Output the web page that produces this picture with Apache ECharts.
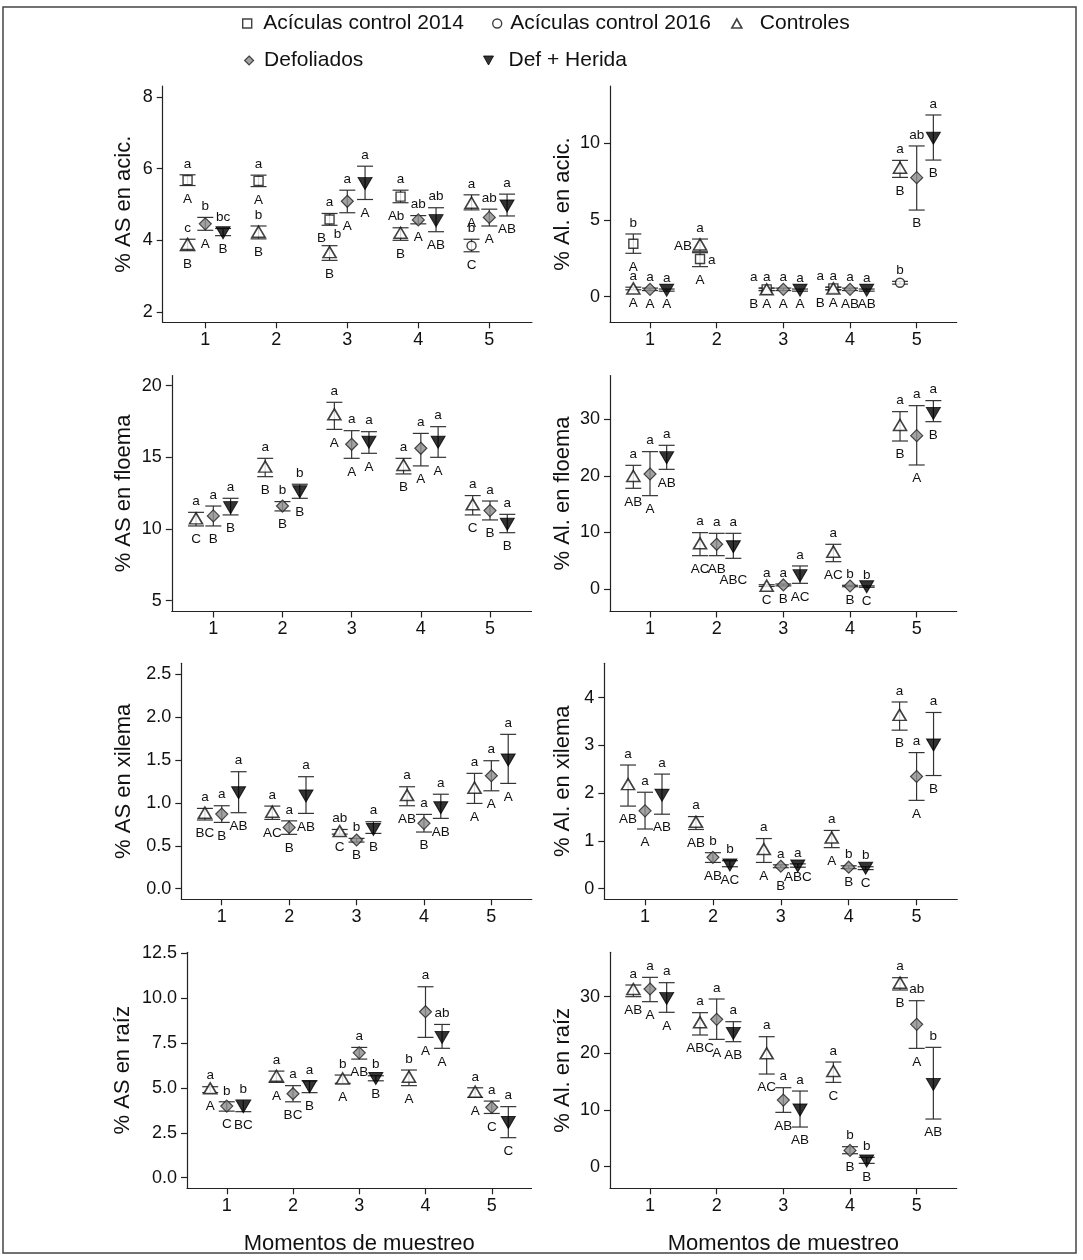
<!DOCTYPE html>
<html><head><meta charset="utf-8">
<script src="https://cdn.jsdelivr.net/npm/echarts@6/dist/echarts.min.js"></script>
<style>html,body{margin:0;padding:0;background:#fff}#c{width:1083px;height:1260px}</style>
</head><body><div id="c"></div>
<script>
// ---------- data ----------
const MOMENTS = [1, 2, 3, 4, 5];
const SERIES_NAMES = ['Acículas control 2014', 'Acículas control 2016', 'Controles', 'Defoliados', 'Def + Herida'];
const Y_TITLES = ['% AS en acic.', '% Al. en acic.', '% AS en floema', '% Al. en floema', '% AS en xilema', '% Al. en xilema', '% AS en raíz', '% Al. en raíz'];
const X_TITLE = 'Momentos de muestreo';
const Y_TICKS = [[2, 4, 6, 8], [0, 5, 10], [5, 10, 15, 20], [0, 10, 20, 30], [0, 0.5, 1, 1.5, 2, 2.5], [0, 1, 2, 3, 4], [0, 2.5, 5, 7.5, 10, 12.5], [0, 10, 20, 30]];
const Y_MIN = [1.71, -1.67, 4.24, -3.98, -0.123, -0.222, -0.59, -3.81];
const Y_MAX = [8.31, 13.74, 20.71, 37.74, 2.624, 4.72, 12.56, 37.83];
const Y_DEC = [0, 0, 0, 0, 1, 0, 1, 0];

// rows: [moment, mean, lower, upper]; letters: [lowercase above, uppercase below]
// Panel 1: % AS en acic.
const p1Sq = [[1, 5.68, 5.53, 5.83], [2, 5.66, 5.50, 5.82], [3, 4.58, 4.42, 4.75], [4, 5.22, 5.05, 5.40]];
const p1SqL = [['a', 'A'], ['a', 'A'], ['a', 'B'], ['a', 'A']];
const p1Ci = [[5, 3.85, 3.68, 4.03]];
const p1CiL = [['b', 'C']];
const p1Tr = [[1, 3.90, 3.71, 4.03], [2, 4.24, 4.04, 4.40], [3, 3.67, 3.44, 3.85], [4, 4.21, 4.00, 4.35], [5, 5.05, 4.85, 5.27]];
const p1TrL = [['c', 'B'], ['b', 'B'], ['b', 'B'], ['b', 'B'], ['a', 'A']];
const p1Di = [[1, 4.46, 4.28, 4.64], [3, 5.09, 4.77, 5.40], [4, 4.57, 4.46, 4.69], [5, 4.64, 4.40, 4.87]];
const p1DiL = [['b', 'A'], ['a', 'A'], ['ab', 'A'], ['ab', 'A']];
const p1Dn = [[1, 4.21, 4.13, 4.33], [3, 5.59, 5.14, 6.07], [4, 4.55, 4.24, 4.91], [5, 4.96, 4.68, 5.29]];
const p1DnL = [['bc', 'B'], ['a', 'A'], ['ab', 'AB'], ['a', 'AB']];
// Panel 2: % Al. en acic.
const p2Sq = [[1, 3.45, 2.83, 4.09], [2, 2.46, 1.96, 2.87], [3, 0.48, 0.40, 0.56], [4, 0.54, 0.45, 0.62]];
const p2SqL = [['b', 'A'], ['a', 'A'], ['a', 'B'], ['a', 'B']];
const p2Ci = [[5, 0.91, 0.82, 1.00]];
const p2CiL = [['b', '']];
const p2Tr = [[1, 0.54, 0.45, 0.62], [2, 3.41, 2.93, 3.76], [3, 0.48, 0.40, 0.56], [4, 0.54, 0.45, 0.62], [5, 8.41, 7.78, 8.89]];
const p2TrL = [['a', 'A'], ['a', 'AB'], ['a', 'A'], ['a', 'A'], ['a', 'B']];
const p2Di = [[1, 0.48, 0.40, 0.56], [3, 0.48, 0.40, 0.56], [4, 0.48, 0.40, 0.56], [5, 7.76, 5.65, 9.83]];
const p2DiL = [['a', 'A'], ['a', 'A'], ['a', 'AB'], ['ab', 'B']];
const p2Dn = [[1, 0.43, 0.36, 0.50], [3, 0.43, 0.36, 0.50], [4, 0.43, 0.36, 0.50], [5, 10.33, 8.91, 11.85]];
const p2DnL = [['a', 'A'], ['a', 'A'], ['a', 'AB'], ['a', 'B']];
// Panel 3: % AS en floema
const p3Tr = [[1, 10.74, 10.21, 11.16], [2, 14.35, 13.65, 14.93], [3, 18.0, 16.95, 18.84], [4, 14.47, 13.84, 14.93], [5, 11.72, 10.98, 12.33]];
const p3TrL = [['a', 'C'], ['a', 'B'], ['a', 'A'], ['a', 'B'], ['a', 'C']];
const p3Di = [[1, 10.91, 10.21, 11.60], [2, 11.60, 11.26, 11.91], [3, 15.91, 14.93, 16.86], [4, 15.63, 14.40, 16.67], [5, 11.28, 10.63, 11.95]];
const p3DiL = [['a', 'B'], ['b', 'B'], ['a', 'A'], ['a', 'A'], ['a', 'B']];
const p3Dn = [[1, 11.49, 10.98, 12.14], [2, 12.60, 12.14, 13.12], [3, 16.05, 15.28, 16.79], [4, 16.05, 15.00, 17.14], [5, 10.33, 9.74, 11.02]];
const p3DnL = [['a', 'B'], ['b', 'B'], ['a', 'A'], ['a', 'A'], ['a', 'B']];
// Panel 4: % Al. en floema
const p4Tr = [[1, 19.98, 17.80, 21.86], [2, 8.07, 5.89, 9.96], [3, 0.59, 0.45, 0.75], [4, 6.60, 4.83, 7.90], [5, 28.99, 26.16, 31.35]];
const p4TrL = [['a', 'AB'], ['a', 'AC'], ['a', 'C'], ['a', 'AC'], ['a', 'B']];
const p4Di = [[1, 20.33, 16.50, 24.28], [2, 7.90, 5.89, 9.84], [3, 0.71, 0.55, 0.88], [4, 0.53, 0.40, 0.65], [5, 27.10, 21.92, 32.41]];
const p4DiL = [['a', 'A'], ['a', 'AB'], ['a', 'B'], ['b', 'B'], ['a', 'A']];
const p4Dn = [[1, 23.22, 21.15, 25.40], [2, 7.48, 5.42, 9.84], [3, 2.36, 1.00, 4.07], [4, 0.41, 0.30, 0.55], [5, 31.05, 29.58, 33.30]];
const p4DnL = [['a', 'AB'], ['a', 'ABC'], ['a', 'AC'], ['b', 'C'], ['a', 'B']];
// Panel 5: % AS en xilema
const p5Tr = [[1, 0.885, 0.80, 0.935], [2, 0.896, 0.807, 0.962], [3, 0.671, 0.636, 0.69], [4, 1.09, 0.966, 1.187], [5, 1.176, 0.993, 1.343]];
const p5TrL = [['a', 'BC'], ['a', 'AC'], ['ab', 'C'], ['a', 'AB'], ['a', 'A']];
const p5Di = [[1, 0.869, 0.772, 0.966], [2, 0.714, 0.633, 0.79], [3, 0.567, 0.543, 0.586], [4, 0.761, 0.66, 0.865], [5, 1.315, 1.14, 1.49]];
const p5DiL = [['a', 'B'], ['a', 'B'], ['b', 'B'], ['a', 'B'], ['a', 'A']];
const p5Dn = [[1, 1.118, 0.885, 1.362], [2, 1.08, 0.877, 1.304], [3, 0.69, 0.644, 0.78], [4, 0.943, 0.819, 1.10], [5, 1.498, 1.226, 1.797]];
const p5DnL = [['a', 'AB'], ['a', 'AB'], ['a', 'B'], ['a', 'AB'], ['a', 'A']];
// Panel 6: % Al. en xilema
const p6Tr = [[1, 2.19, 1.73, 2.59], [2, 1.40, 1.24, 1.51], [3, 0.83, 0.55, 1.05], [4, 1.07, 0.86, 1.22], [5, 3.64, 3.32, 3.91]];
const p6TrL = [['a', 'AB'], ['a', 'AB'], ['a', 'A'], ['a', 'A'], ['a', 'B']];
const p6Di = [[1, 1.63, 1.25, 2.02], [2, 0.656, 0.55, 0.754], [3, 0.47, 0.44, 0.50], [4, 0.45, 0.42, 0.48], [5, 2.35, 1.85, 2.85]];
const p6DiL = [['a', 'A'], ['b', 'AB'], ['a', 'B'], ['b', 'B'], ['a', 'A']];
const p6Dn = [[1, 1.96, 1.56, 2.40], [2, 0.496, 0.46, 0.586], [3, 0.475, 0.45, 0.52], [4, 0.43, 0.40, 0.46], [5, 3.01, 2.37, 3.69]];
const p6DnL = [['a', 'AB'], ['b', 'AC'], ['a', 'ABC'], ['b', 'C'], ['a', 'B']];
// Panel 7: % AS en raíz
const p7Tr = [[1, 4.98, 4.74, 5.07], [2, 5.68, 5.31, 5.94], [3, 5.53, 5.26, 5.72], [4, 5.63, 5.13, 6.00], [5, 4.79, 4.48, 5.01]];
const p7TrL = [['a', 'A'], ['a', 'A'], ['b', 'A'], ['b', 'A'], ['a', 'A']];
const p7Di = [[1, 3.99, 3.71, 4.23], [2, 4.68, 4.23, 5.13], [3, 6.96, 6.61, 7.26], [4, 9.25, 7.82, 10.64], [5, 3.92, 3.58, 4.27]];
const p7DiL = [['b', 'C'], ['a', 'BC'], ['a', 'AB'], ['a', 'A'], ['a', 'C']];
const p7Dn = [[1, 3.96, 3.68, 4.33], [2, 5.07, 4.74, 5.40], [3, 5.53, 5.40, 5.68], [4, 7.82, 7.21, 8.54], [5, 3.08, 2.23, 3.96]];
const p7DnL = [['b', 'BC'], ['a', 'B'], ['b', 'B'], ['ab', 'A'], ['a', 'C']];
// Panel 8: % Al. en raíz
const p8Tr = [[1, 31.35, 30.0, 32.06], [2, 25.47, 23.24, 27.18], [3, 20.0, 16.35, 22.94], [4, 16.88, 14.88, 18.47], [5, 32.47, 31.18, 33.35]];
const p8TrL = [['a', 'AB'], ['a', 'ABC'], ['a', 'AC'], ['a', 'C'], ['a', 'B']];
const p8Di = [[1, 31.35, 29.12, 33.41], [2, 26.0, 22.47, 29.59], [3, 11.76, 9.59, 13.94], [4, 2.88, 2.29, 3.53], [5, 25.12, 20.88, 29.29]];
const p8DiL = [['a', 'A'], ['a', 'A'], ['a', 'AB'], ['b', 'B'], ['ab', 'A']];
const p8Dn = [[1, 29.7, 27.24, 32.47], [2, 23.53, 22.06, 25.59], [3, 10.0, 7.0, 13.35], [4, 1.0, 0.59, 1.65], [5, 14.53, 8.41, 21.06]];
const p8DnL = [['a', 'A'], ['a', 'AB'], ['a', 'AB'], ['b', 'B'], ['b', 'AB']];

const PANEL_DATA = [
  [['sq', p1Sq, p1SqL], ['ci', p1Ci, p1CiL], ['tr', p1Tr, p1TrL], ['di', p1Di, p1DiL], ['dn', p1Dn, p1DnL]],
  [['sq', p2Sq, p2SqL], ['ci', p2Ci, p2CiL], ['tr', p2Tr, p2TrL], ['di', p2Di, p2DiL], ['dn', p2Dn, p2DnL]],
  [['tr', p3Tr, p3TrL], ['di', p3Di, p3DiL], ['dn', p3Dn, p3DnL]],
  [['tr', p4Tr, p4TrL], ['di', p4Di, p4DiL], ['dn', p4Dn, p4DnL]],
  [['tr', p5Tr, p5TrL], ['di', p5Di, p5DiL], ['dn', p5Dn, p5DnL]],
  [['tr', p6Tr, p6TrL], ['di', p6Di, p6DiL], ['dn', p6Dn, p6DnL]],
  [['tr', p7Tr, p7TrL], ['di', p7Di, p7DiL], ['dn', p7Dn, p7DnL]],
  [['tr', p8Tr, p8TrL], ['di', p8Di, p8DiL], ['dn', p8Dn, p8DnL]]
];

// ---------- layout & style ----------
const FONT = "'Liberation Sans', Arial, Helvetica, sans-serif";
const GRIDS = [
  [162.7, 86, 369.2, 236.3], [610, 86, 346.7, 236.3],
  [171.8, 375.5, 359.7, 236], [610, 375.5, 346.7, 236],
  [181.3, 663.3, 350.5, 236], [604.3, 663.3, 353, 236],
  [187, 952.3, 344.5, 236], [610, 952.3, 346.7, 236]
];
const Y_NAME_GAP = [28, 36, 37, 36, 46, 30, 53, 36];
const STYLE = {
  sq: { name: SERIES_NAMES[0], off: -0.25, symbol: 'path://M0,0H10V10H0Z', size: [9, 9], item: { color: '#fff', borderColor: '#111', borderWidth: 1.4 } },
  ci: { name: SERIES_NAMES[1], off: -0.25, symbol: 'path://M5,0A5,5,0,1,1,5,10A5,5,0,1,1,5,0Z', size: [9, 9], item: { color: '#fff', borderColor: '#111', borderWidth: 1.4 } },
  tr: { name: SERIES_NAMES[2], off: -0.25, symbol: 'path://M5,0L10,9L0,9Z', size: [13, 11], item: { color: '#fff', borderColor: '#111', borderWidth: 1.6 } },
  di: { name: SERIES_NAMES[3], off: 0, symbol: 'path://M5,0L10,5L5,10L0,5Z', size: [12, 12], item: { color: '#8c8c8c', borderColor: '#222', borderWidth: 1.2 } },
  dn: { name: SERIES_NAMES[4], off: 0.25, symbol: 'path://M0,0L10,0L5,9Z', size: [14, 12], item: { color: '#000', borderColor: '#000', borderWidth: 1 } }
};
// label nudges: [panel, key, moment, 'top'|'bot', dx, dy]
const LABEL_SHIFT = [
  [0, 'sq', 3, 'bot', -8, 0], [0, 'tr', 3, 'top', 8, 0], [0, 'sq', 4, 'bot', -8, 0],
  [1, 'sq', 3, 'top', -13, 0], [1, 'sq', 3, 'bot', -13, 0], [1, 'sq', 4, 'top', -13, 0], [1, 'sq', 4, 'bot', -13, 0],
  [3, 'dn', 2, 'bot', 0, 8], [5, 'di', 3, 'bot', 0, 5], [5, 'dn', 3, 'bot', 0, -3]
];
// labels placed beside the marker: [panel, key, moment, 'top'|'bot', side]
const LABEL_SIDE = [[1, 'tr', 2, 'bot', 'left'], [1, 'sq', 2, 'top', 'right']];

function renderBar(params, api) {
  const x = api.value(0), lo = api.value(2), hi = api.value(3);
  const a = api.coord([x, lo]), b = api.coord([x, hi]);
  const hw = 8;
  const style = { stroke: '#333', lineWidth: 1.2, fill: null };
  return { type: 'group', children: [
    { type: 'line', shape: { x1: a[0], y1: a[1], x2: b[0], y2: b[1] }, style },
    { type: 'line', shape: { x1: a[0] - hw, y1: a[1], x2: a[0] + hw, y2: a[1] }, style },
    { type: 'line', shape: { x1: b[0] - hw, y1: b[1], x2: b[0] + hw, y2: b[1] }, style }
  ] };
}

function makeLabelRenderer(pi, key, rows, letters) {
  return function (params, api) {
    const i = params.dataIndex;
    const x = api.value(0), m = api.value(1), lo = api.value(2), hi = api.value(3);
    const pM = api.coord([x, m]), pLo = api.coord([x, lo]), pHi = api.coord([x, hi]);
    const mom = rows[i][0];
    const children = [];
    const mk = (text, px, py, align) => ({ type: 'text', style: { text, x: px, y: py, fill: '#111', fontSize: 13.5, fontFamily: FONT, align: align || 'center', verticalAlign: 'middle' } });
    ['top', 'bot'].forEach((which, k) => {
      const t = letters[i][k];
      if (!t) return;
      const side = LABEL_SIDE.find(s => s[0] === pi && s[1] === key && s[2] === mom && s[3] === which);
      if (side) {
        if (side[4] === 'left') children.push(mk(t, pM[0] - 8, pM[1] + 2, 'right'));
        else children.push(mk(t, pM[0] + 8, pM[1] + 1, 'left'));
        return;
      }
      const sh = LABEL_SHIFT.find(s => s[0] === pi && s[1] === key && s[2] === mom && s[3] === which);
      const dx = sh ? sh[4] : 0, dy = sh ? sh[5] : 0;
      if (which === 'top') children.push(mk(t, pHi[0] + dx, pHi[1] - 11 + dy));
      else children.push(mk(t, pLo[0] + dx, pLo[1] + 13.5 + dy));
    });
    return { type: 'group', children };
  };
}

const grid = [], xAxis = [], yAxis = [], series = [];
GRIDS.forEach((g, i) => {
  grid.push({ left: g[0], top: g[1], width: g[2], height: g[3] });
  const bottomRow = i >= 6;
  xAxis.push({
    type: 'value', gridIndex: i, min: 0.4, max: 5.6,
    axisLine: { show: true, onZero: false, lineStyle: { color: '#222', width: 1.2 } },
    axisTick: { show: true, length: 6, customValues: MOMENTS, lineStyle: { color: '#222', width: 1.2 } },
    axisLabel: { customValues: MOMENTS, fontSize: 18, color: '#111', fontFamily: FONT, margin: 9 },
    splitLine: { show: false },
    name: bottomRow ? X_TITLE : '', nameLocation: 'middle', nameGap: 45,
    nameTextStyle: { fontSize: 22, color: '#111', fontFamily: FONT }
  });
  yAxis.push({
    type: 'value', gridIndex: i, min: Y_MIN[i], max: Y_MAX[i],
    axisLine: { show: true, onZero: false, lineStyle: { color: '#222', width: 1.2 } },
    axisTick: { show: true, length: 6, customValues: Y_TICKS[i], lineStyle: { color: '#222', width: 1.2 } },
    axisLabel: { customValues: Y_TICKS[i], fontSize: 18, color: '#111', fontFamily: FONT, margin: 10,
      formatter: v => Number(v).toFixed(Y_DEC[i]) },
    splitLine: { show: false },
    name: Y_TITLES[i], nameLocation: 'middle', nameGap: Y_NAME_GAP[i], nameRotate: 90,
    nameTextStyle: { fontSize: 22, color: '#111', fontFamily: FONT }
  });
});

PANEL_DATA.forEach((list, pi) => {
  list.forEach(([key, rows, letters]) => {
    const st = STYLE[key];
    const pts = rows.map(r => [r[0] + st.off, r[1], r[2], r[3]]);
    series.push({ type: 'custom', xAxisIndex: pi, yAxisIndex: pi, z: 2, silent: true, renderItem: renderBar, data: pts });
    series.push({ type: 'scatter', name: st.name, xAxisIndex: pi, yAxisIndex: pi, z: 3, symbol: st.symbol, symbolSize: st.size, itemStyle: st.item, data: pts.map(p => [p[0], p[1]]) });
    series.push({ type: 'custom', xAxisIndex: pi, yAxisIndex: pi, z: 4, silent: true, renderItem: makeLabelRenderer(pi, key, rows, letters), data: pts });
  });
});

// legend: [key, left, top, itemWidth]
const LEGEND_POS = [['sq', 242, 13, 22], ['ci', 492, 13, 16], ['tr', 731, 13, 36], ['di', 244, 50, 20], ['dn', 483, 50, 30]];
const legend = LEGEND_POS.map(([key, left, top, w]) => ({
  data: [{ name: STYLE[key].name, icon: STYLE[key].symbol, itemStyle: STYLE[key].item }],
  left, top, itemWidth: w, itemHeight: 9, padding: 0, selectedMode: false,
  textStyle: { fontSize: 21, color: '#111', fontFamily: FONT }
}));

const chart = echarts.init(document.getElementById('c'));
chart.setOption({
  animation: false,
  backgroundColor: '#fff',
  textStyle: { fontFamily: FONT },
  graphic: [{ type: 'rect', shape: { x: 3, y: 7, width: 1073, height: 1246 }, style: { fill: 'none', stroke: '#444', lineWidth: 1.5 }, silent: true }],
  legend, grid, xAxis, yAxis, series
});
</script>
</body></html>
